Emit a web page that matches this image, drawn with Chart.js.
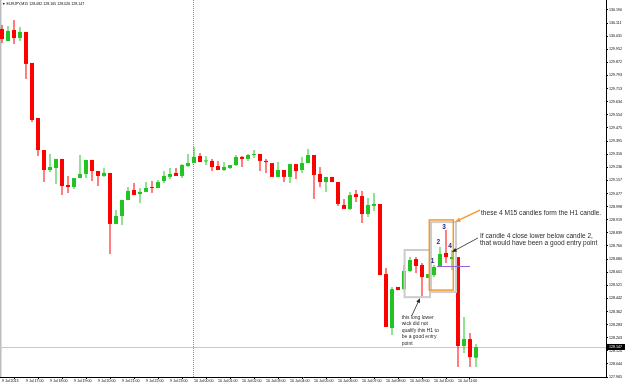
<!DOCTYPE html>
<html>
<head>
<meta charset="utf-8">
<title>EURJPY,M15</title>
<script src="https://cdn.jsdelivr.net/npm/chart.js@4.4.0/dist/chart.umd.min.js"></script>
<style>
    html, body { margin: 0; padding: 0; background: #ffffff; }
    #chartWrap { position: relative; width: 625px; height: 384px; }
</style>
</head>
<body>
<div id="chartWrap"><canvas id="candleChart"></canvas></div>
<script>
// EURJPY M15 candles, 9 Jul 16:00 -> 10 Jul 11:45 (one entry per candle)
const opens = [
    130.075, 130.002, 130.069, 130.020, 130.057, 129.869, 129.535, 129.341, 129.220, 129.232,
    129.287, 129.129, 129.117, 129.171, 129.196, 129.281, 129.214, 129.184, 129.202, 128.893,
    128.941, 129.038, 129.099, 129.074, 129.087, 129.117, 129.111, 129.153, 129.178, 129.202,
    129.184, 129.244, 129.262, 129.305, 129.272, 129.275, 129.244, 129.220, 129.232, 129.250,
    129.299, 129.287, 129.311, 129.317, 129.275, 129.262, 129.178, 129.220, 129.178, 129.256,
    129.220, 129.262, 129.311, 129.196, 129.147, 129.178, 129.147, 129.008, 128.984, 129.074,
    129.062, 128.953, 129.002, 129.014, 128.589, 128.262, 128.511, 128.498, 128.608, 128.680,
    128.644, 128.565, 128.583, 128.638, 128.717, 128.680, 128.692, 128.153, 128.195, 128.082
];
const highs = [
    130.099, 130.093, 130.129, 130.087, 130.057, 129.869, 129.535, 129.341, 129.317, 129.287,
    129.287, 129.184, 129.171, 129.311, 129.281, 129.281, 129.214, 129.232, 129.202, 128.977,
    129.038, 129.117, 129.141, 129.111, 129.147, 129.153, 129.159, 129.214, 129.232, 129.232,
    129.256, 129.317, 129.359, 129.323, 129.305, 129.287, 129.275, 129.268, 129.250, 129.311,
    129.305, 129.317, 129.341, 129.317, 129.287, 129.262, 129.268, 129.220, 129.256, 129.256,
    129.299, 129.347, 129.311, 129.238, 129.178, 129.178, 129.147, 129.044, 129.087, 129.099,
    129.093, 129.050, 129.081, 129.014, 128.626, 128.511, 128.511, 128.644, 128.692, 128.692,
    128.656, 128.589, 128.644, 128.753, 128.856, 128.735, 128.692, 128.329, 128.232, 128.165
];
const lows = [
    129.990, 130.002, 129.984, 130.002, 129.772, 129.511, 129.305, 129.147, 129.208, 129.135,
    129.068, 129.081, 129.105, 129.171, 129.171, 129.153, 129.123, 129.178, 128.711, 128.893,
    128.887, 129.038, 129.068, 129.020, 129.087, 129.081, 129.111, 129.141, 129.165, 129.184,
    129.171, 129.238, 129.262, 129.268, 129.250, 129.214, 129.220, 129.214, 129.226, 129.244,
    129.238, 129.275, 129.293, 129.214, 129.202, 129.178, 129.178, 129.147, 129.141, 129.165,
    129.202, 129.262, 129.044, 129.117, 129.087, 129.147, 129.002, 128.984, 128.977, 129.026,
    128.899, 128.935, 128.971, 128.583, 128.268, 128.220, 128.492, 128.492, 128.602, 128.595,
    128.444, 128.565, 128.571, 128.638, 128.656, 128.614, 128.026, 128.110, 128.026, 128.026
];
const closes = [
    130.014, 130.063, 130.020, 130.057, 129.863, 129.523, 129.341, 129.220, 129.238, 129.287,
    129.123, 129.117, 129.171, 129.196, 129.281, 129.214, 129.184, 129.202, 128.893, 128.941,
    129.038, 129.093, 129.068, 129.087, 129.111, 129.111, 129.147, 129.184, 129.196, 129.184,
    129.250, 129.262, 129.299, 129.268, 129.278, 129.238, 129.220, 129.238, 129.250, 129.299,
    129.287, 129.311, 129.317, 129.275, 129.268, 129.178, 129.220, 129.178, 129.256, 129.214,
    129.262, 129.311, 129.190, 129.147, 129.178, 129.147, 129.014, 128.984, 129.068, 129.056,
    128.953, 129.008, 129.014, 128.583, 128.268, 128.498, 128.492, 128.608, 128.674, 128.638,
    128.571, 128.589, 128.632, 128.711, 128.692, 128.692, 128.153, 128.195, 128.086, 128.147
];

// time axis: one label per hour (every 4th candle)
const hourTicks = [0, 4, 8, 12, 16, 20, 24, 28, 32, 36, 40, 44, 48, 52, 56, 60, 64, 68, 72, 76];
const timeLabels = [
    '9 Jul 2013', '9 Jul 17:00', '9 Jul 18:00', '9 Jul 19:00', '9 Jul 20:00', '9 Jul 21:00',
    '9 Jul 22:00', '9 Jul 23:00', '10 Jul 00:00', '10 Jul 01:00', '10 Jul 02:00', '10 Jul 03:00',
    '10 Jul 04:00', '10 Jul 05:00', '10 Jul 06:00', '10 Jul 07:00', '10 Jul 08:00', '10 Jul 09:00',
    '10 Jul 10:00', '10 Jul 11:00'
];

// price axis labels
const priceTicks = [
    130.190, 130.111, 130.031, 129.952, 129.872, 129.793, 129.713, 129.634, 129.554, 129.475,
    129.395, 129.316, 129.236, 129.157, 129.077, 128.998, 128.919, 128.839, 128.760, 128.680,
    128.601, 128.521, 128.442, 128.362, 128.283, 128.203, 128.124, 128.044, 127.965
];

const headerText = '\u25BC EURJPY,M15 128.082 128.165 128.026 128.147';

const FONT = "'Liberation Sans', Arial, sans-serif";
const BULL = '#22c322';
const BEAR = '#ff0000';

class CandleChartHandler {
    constructor() {
        this.chart = null;
        // notes drawn on top of the candles, in candle-index / price units
        this.boxes = [
            { x0: 67.1, x1: 71.33, y0: 128.449, y1: 128.735, color: '#cccccc', width: 2 },
            { x0: 71.5, x1: 75.67, y0: 128.480, y1: 128.904, color: '#cccccc', width: 2 },
            { x0: 71.22, x1: 75.22, y0: 128.492, y1: 128.917, color: '#f39a2e', width: 1.5 }
        ];
        this.arrows = [
            { from: [79.67, 128.977], to: [75.5, 128.905], color: '#f39a2e', width: 1.5, head: 6 },
            { from: [79.33, 128.808], to: [75.0, 128.723], color: '#222222', width: 0.8, head: 5 },
            { from: [68.28, 128.335], to: [69.67, 128.443], color: '#222222', width: 0.8, head: 5 }
        ];
        this.notes = [
            { x: 79.83, y: 128.961, text: 'these 4 M15 candles form the H1 candle.', size: 6.6 },
            { x: 79.67, y: 128.820, text: 'If candle 4 close lower below candle 2,', size: 6.6 },
            { x: 79.67, y: 128.776, text: 'that would have been a good entry point', size: 6.6 },
            { x: 66.62, y: 128.327, text: 'this long lower', size: 5 },
            { x: 66.62, y: 128.286, text: 'wick did not', size: 5 },
            { x: 66.62, y: 128.246, text: 'qualify this H1 to', size: 5 },
            { x: 66.62, y: 128.209, text: 'be a good entry', size: 5 },
            { x: 66.62, y: 128.169, text: 'point', size: 5 }
        ];
        this.numbers = [
            { x: 71.78, y: 128.670, text: '1' },
            { x: 72.72, y: 128.785, text: '2' },
            { x: 73.67, y: 128.876, text: '3' },
            { x: 74.67, y: 128.759, text: '4' }
        ];
        this.entryLine = { x0: 72.5, x1: 78.0, y: 128.638 };
    }

    initialize() {
        const ctx = document.getElementById('candleChart');
        const colors = closes.map((c, i) => c >= opens[i] ? BULL : BEAR);

        this.chart = new Chart(ctx, {
            type: 'bar',
            data: {
                datasets: [
                    {
                        // wicks
                        data: opens.map((o, i) => ({ x: i, y: [lows[i], highs[i]] })),
                        backgroundColor: colors,
                        barThickness: 1,
                        minBarLength: 1,
                        grouped: false,
                        inflateAmount: 0,
                        order: 2
                    },
                    {
                        // bodies
                        data: opens.map((o, i) => ({ x: i, y: [o, closes[i]] })),
                        backgroundColor: colors,
                        barThickness: 4,
                        minBarLength: 1,
                        grouped: false,
                        inflateAmount: 0,
                        order: 1
                    }
                ]
            },
            options: {
                responsive: true,
                maintainAspectRatio: false,
                animation: false,
                layout: { padding: 0 },
                plugins: {
                    legend: { display: false },
                    tooltip: { enabled: false }
                },
                scales: {
                    x: {
                        type: 'linear',
                        offset: false,
                        min: -1 / 3,
                        max: 100 + 2 / 3,
                        grid: { drawOnChartArea: false, tickLength: 2, color: '#000000' },
                        border: { color: '#000000' },
                        ticks: {
                            autoSkip: false,
                            maxRotation: 0,
                            align: 'start',
                            padding: 0,
                            color: '#000000',
                            font: { family: FONT, size: 3.6 },
                            callback: (v, idx) => timeLabels[idx]
                        },
                        afterBuildTicks: s => { s.ticks = hourTicks.map(v => ({ value: v })); },
                        afterFit: s => { s.height = 7; s.paddingLeft = 0; s.paddingRight = 0; }
                    },
                    y: {
                        type: 'linear',
                        position: 'right',
                        min: 127.965,
                        max: 130.2506,
                        grid: { drawOnChartArea: false, tickLength: 2, color: '#000000' },
                        border: { color: '#000000' },
                        ticks: {
                            padding: 1,
                            color: '#000000',
                            font: { family: FONT, size: 3.6 },
                            callback: v => v.toFixed(3)
                        },
                        afterBuildTicks: s => { s.ticks = priceTicks.map(v => ({ value: v })); },
                        afterFit: s => { s.width = 19; s.paddingTop = 0; s.paddingBottom = 0; }
                    }
                }
            },
            plugins: [this.overlayPlugin()]
        });
    }

    overlayPlugin() {
        const self = this;
        return {
            id: 'mt4Overlay',
            beforeDatasetsDraw(chart) {
                const { ctx, chartArea, scales } = chart;
                ctx.save();
                // window left edge
                ctx.fillStyle = '#bdbdbd';
                ctx.fillRect(0, 0, 1.5, chartArea.bottom);

                // day separator
                const sx = Math.round(scales.x.getPixelForValue(32)) - 0.5;
                ctx.strokeStyle = '#8a8a8a';
                ctx.lineWidth = 1;
                ctx.setLineDash([1, 1]);
                ctx.beginPath();
                ctx.moveTo(sx, chartArea.top);
                ctx.lineTo(sx, chartArea.bottom);
                ctx.stroke();
                ctx.setLineDash([]);

                // bid line
                const by = Math.round(scales.y.getPixelForValue(closes[closes.length - 1])) + 0.5;
                ctx.strokeStyle = '#c8c8c8';
                ctx.beginPath();
                ctx.moveTo(chartArea.left, by);
                ctx.lineTo(chartArea.right, by);
                ctx.stroke();
                ctx.restore();
            },
            afterDraw(chart) {
                const { ctx, chartArea, scales } = chart;
                const X = v => scales.x.getPixelForValue(v);
                const Y = v => scales.y.getPixelForValue(v);
                ctx.save();

                // header
                ctx.fillStyle = '#000000';
                ctx.font = '3.6px ' + FONT;
                ctx.textBaseline = 'middle';
                ctx.textAlign = 'left';
                ctx.fillText(headerText, 2, 4);

                // boxes
                self.boxes.forEach(b => {
                    ctx.strokeStyle = b.color;
                    ctx.lineWidth = b.width;
                    ctx.strokeRect(X(b.x0), Y(b.y1), X(b.x1) - X(b.x0), Y(b.y0) - Y(b.y1));
                });

                // entry level
                ctx.strokeStyle = '#9b5fd6';
                ctx.lineWidth = 1;
                ctx.beginPath();
                const ey = Math.round(Y(self.entryLine.y)) + 0.5;
                ctx.moveTo(X(self.entryLine.x0), ey);
                ctx.lineTo(X(self.entryLine.x1), ey);
                ctx.stroke();

                // arrows
                self.arrows.forEach(a => {
                    const x0 = X(a.from[0]), y0 = Y(a.from[1]);
                    const x1 = X(a.to[0]), y1 = Y(a.to[1]);
                    const ang = Math.atan2(y1 - y0, x1 - x0);
                    ctx.strokeStyle = a.color;
                    ctx.fillStyle = a.color;
                    ctx.lineWidth = a.width;
                    ctx.beginPath();
                    ctx.moveTo(x0, y0);
                    ctx.lineTo(x1 - Math.cos(ang) * a.head * 0.8, y1 - Math.sin(ang) * a.head * 0.8);
                    ctx.stroke();
                    ctx.beginPath();
                    ctx.moveTo(x1, y1);
                    ctx.lineTo(x1 - a.head * Math.cos(ang - 0.4), y1 - a.head * Math.sin(ang - 0.4));
                    ctx.lineTo(x1 - a.head * Math.cos(ang + 0.4), y1 - a.head * Math.sin(ang + 0.4));
                    ctx.closePath();
                    ctx.fill();
                });

                // notes
                ctx.fillStyle = '#2b2b2b';
                self.notes.forEach(n => {
                    ctx.font = n.size + 'px ' + FONT;
                    ctx.fillText(n.text, X(n.x), Y(n.y));
                });

                // candle numbers
                ctx.fillStyle = '#232380';
                ctx.font = 'bold 6.5px ' + FONT;
                ctx.textAlign = 'center';
                self.numbers.forEach(n => ctx.fillText(n.text, X(n.x), Y(n.y)));

                // current price label
                const last = closes[closes.length - 1];
                const py = Y(last);
                ctx.fillStyle = '#000000';
                ctx.fillRect(chartArea.right + 1, py - 3, 19, 6);
                ctx.fillStyle = '#ffffff';
                ctx.font = '3.6px ' + FONT;
                ctx.textAlign = 'left';
                ctx.fillText(last.toFixed(3), chartArea.right + 3, py);
                ctx.restore();
            }
        };
    }
}

const handler = new CandleChartHandler();
handler.initialize();
</script>
</body>
</html>
